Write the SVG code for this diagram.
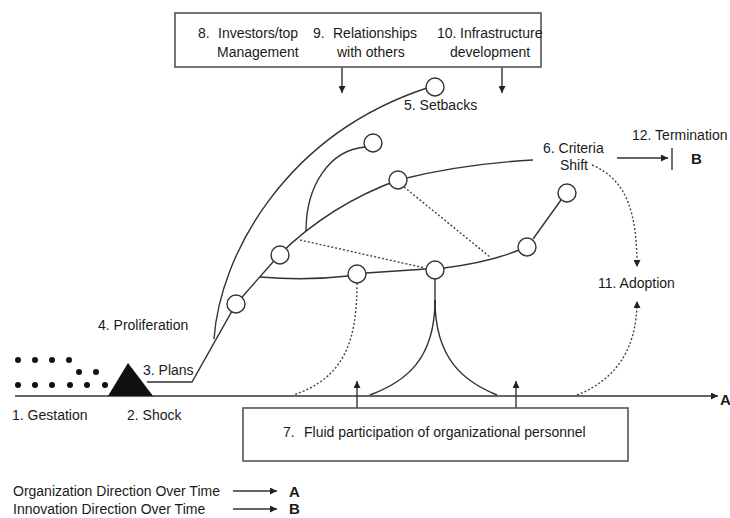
<svg xmlns="http://www.w3.org/2000/svg" width="730" height="518" viewBox="0 0 730 518">
<defs>
<style>
.t{font-family:"Liberation Sans",Arial,sans-serif;font-size:14px;fill:#1a1a1a}
.big{font-family:"Liberation Sans",Arial,sans-serif;font-size:15px;font-weight:bold;fill:#1a1a1a}
.ln{fill:none;stroke:#333;stroke-width:1.4}
.dot{fill:none;stroke:#444;stroke-width:1.4;stroke-dasharray:2 2}
.box{fill:#fff;stroke:#555;stroke-width:1.6}
.nd{fill:#fff;stroke:#333;stroke-width:1.4}
.gd{fill:#111}
</style>
<marker id="arr" markerUnits="userSpaceOnUse" markerWidth="7" markerHeight="7" refX="7" refY="3.5" orient="auto">
<path d="M0,0 L7,3.5 L0,7 z" fill="#222"/>
</marker>
</defs>
<rect width="730" height="518" fill="#fff"/>

<g id="connectors">
<path class="ln" d="M15,396 H718" stroke-width="1.6" marker-end="url(#arr)"/>
<path class="ln" d="M147,382 H192 L236,304 L280,254"/>
<path class="ln" d="M214,339 C220,255 285,135 427,88"/>
<path class="ln" d="M280,254 Q330,205 398,180"/>
<path class="ln" d="M398,180 Q460,164 533,160"/>
<path class="ln" d="M306,231 C306,185 330,150 365,147"/>
<path class="ln" d="M260,277 Q305,281 348,276"/>
<path class="ln" d="M366,273 L426,269"/>
<path class="ln" d="M444,268 Q490,262 519,250"/>
<path class="ln" d="M533,239 L561,200"/>
<path class="ln" d="M435,279 V305" stroke-width="2"/>
<path class="ln" d="M435,300 C435,360 405,382 370,395"/>
<path class="ln" d="M435,300 C435,360 465,382 497,395"/>
<path class="dot" d="M300,240 L425,268"/>
<path class="dot" d="M404,187 L490,257"/>
<path class="dot" d="M357,283 C357,340 345,378 293,395"/>
<path class="dot" d="M577,395 C615,380 637,350 637,301" marker-end="url(#arr)"/>
<path class="dot" d="M592,165 C628,180 637,215 637,267" marker-end="url(#arr)"/>
<path class="ln" d="M617,158 H668" marker-end="url(#arr)"/>
<path class="ln" d="M672,148 V170" stroke-width="2.6"/>
<path class="ln" d="M342,67 V93" marker-end="url(#arr)"/>
<path class="ln" d="M502,67 V93" marker-end="url(#arr)"/>
<path class="ln" d="M357,408 V381" marker-end="url(#arr)"/>
<path class="ln" d="M516,408 V381" marker-end="url(#arr)"/>
<path class="ln" d="M233,491 H277" marker-end="url(#arr)"/>
<path class="ln" d="M233,509 H277" marker-end="url(#arr)"/>
</g>

<g id="top-box">
<rect class="box" x="175" y="13" width="366" height="54"/>
<text class="t" y="38"><tspan x="198">8.</tspan><tspan x="218">Investors/top</tspan></text>
<text class="t" x="217" y="57">Management</text>
<text class="t" y="38"><tspan x="313">9.</tspan><tspan x="333">Relationships</tspan></text>
<text class="t" x="337" y="57">with others</text>
<text class="t" y="38"><tspan x="437">10.</tspan><tspan x="460">Infrastructure</tspan></text>
<text class="t" x="450" y="57">development</text>
</g>

<g id="bottom-box">
<rect class="box" x="243" y="408" width="385" height="53"/>
<text class="t" y="437"><tspan x="283">7.</tspan><tspan x="304">Fluid participation of organizational personnel</tspan></text>
</g>

<g id="gestation">
<circle class="gd" cx="18" cy="360" r="3"/><circle class="gd" cx="35" cy="360" r="3"/><circle class="gd" cx="52" cy="360" r="3"/><circle class="gd" cx="69" cy="360" r="3"/>
<circle class="gd" cx="79" cy="372" r="3"/><circle class="gd" cx="96" cy="372" r="3"/>
<circle class="gd" cx="18" cy="385" r="3"/><circle class="gd" cx="35" cy="385" r="3"/><circle class="gd" cx="52" cy="385" r="3"/><circle class="gd" cx="70" cy="385" r="3"/><circle class="gd" cx="87" cy="385" r="3"/><circle class="gd" cx="105" cy="385" r="3"/>
<text class="t" x="12" y="420">1. Gestation</text>
</g>

<g id="shock">
<path d="M128,363 L153,396 L108,396 z" fill="#111"/>
<text class="t" x="127" y="420">2. Shock</text>
</g>

<g id="plans"><text class="t" x="143" y="375">3. Plans</text></g>
<g id="proliferation"><text class="t" x="98" y="330">4. Proliferation</text></g>

<g id="n1"><circle class="nd" cx="236" cy="304" r="9"/></g>
<g id="n2"><circle class="nd" cx="280" cy="255" r="9"/></g>
<g id="n3"><circle class="nd" cx="398" cy="180" r="9"/></g>
<g id="n4"><circle class="nd" cx="373" cy="143" r="9"/></g>
<g id="n5"><circle class="nd" cx="357" cy="274" r="9"/></g>
<g id="n6"><circle class="nd" cx="435" cy="270" r="9"/></g>
<g id="n7"><circle class="nd" cx="527" cy="247" r="9"/></g>
<g id="n8"><circle class="nd" cx="567" cy="193" r="9"/></g>
<g id="setbacks"><circle class="nd" cx="435" cy="87" r="9"/><text class="t" x="404" y="110">5. Setbacks</text></g>

<g id="criteria-shift"><text class="t" x="543" y="153">6. Criteria</text><text class="t" x="560" y="170">Shift</text></g>
<g id="termination"><text class="t" x="632" y="140">12. Termination</text><text class="big" x="691" y="164">B</text></g>
<g id="adoption"><text class="t" x="598" y="288">11. Adoption</text></g>
<g id="axis-label"><text class="big" x="720" y="405">A</text></g>

<g id="legend">
<text class="t" x="13" y="496">Organization Direction Over Time</text>
<text class="big" x="289" y="497">A</text>
<text class="t" x="13" y="514">Innovation Direction Over Time</text>
<text class="big" x="289" y="514">B</text>
</g>
</svg>
